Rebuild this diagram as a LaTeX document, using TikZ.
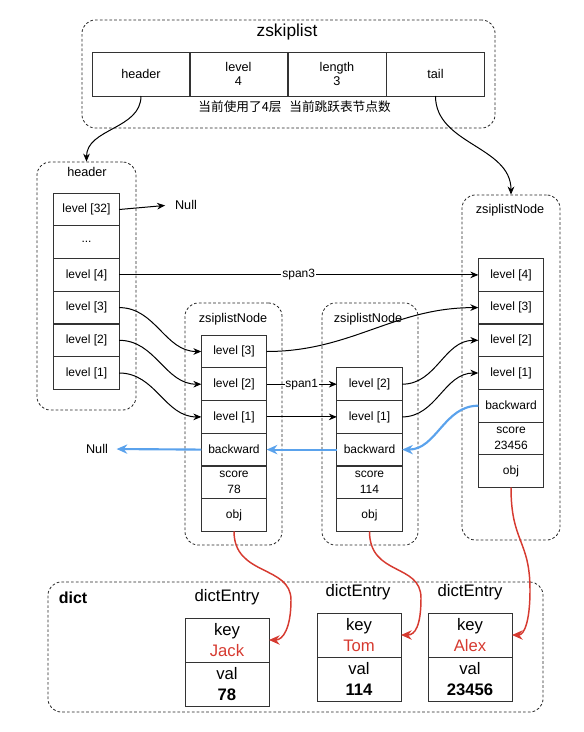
\documentclass[tikz,border=0pt]{standalone}
\usepackage{fontspec}
\setmainfont{Liberation Sans}
\newfontfamily\cjk{Noto Sans CJK SC}
\usetikzlibrary{arrows.meta}
\definecolor{linkblue}{HTML}{5AA2EC}
\definecolor{objred}{HTML}{D63A30}
\definecolor{cellgray}{HTML}{333333}

\begin{document}
\begin{tikzpicture}[x=0.75pt,y=-0.75pt,
    cell/.style={draw=cellgray,line width=0.7pt,minimum width=49pt,minimum height=24.5pt,inner sep=0pt,outer sep=0pt,align=center,font=\fontsize{9}{12}\selectfont},
    topcell/.style={cell,minimum width=73.5pt,minimum height=33pt,font=\fontsize{9.5}{11}\selectfont},
    entry/.style={cell,minimum width=63pt,minimum height=33pt,font=\fontsize{12.5}{16}\selectfont},
    group/.style={draw=black!85,dash pattern=on 2pt off 1.6pt,line width=0.6pt,rounded corners=10pt,inner sep=0pt},
    title/.style={font=\fontsize{9.5}{11}\selectfont},
    link/.style={-{Stealth[length=6pt,width=5pt]},line width=0.75pt},
    back/.style={-{Stealth[length=8pt,width=7pt]},line width=1.6pt,color=linkblue},
    obj/.style={-{Stealth[length=8pt,width=7pt]},line width=1.1pt,color=objred}]
\useasboundingbox (0,0) rectangle (583,732);

% dashed containers
\node[group,minimum width=309.8pt,minimum height=81pt] (zsl) at (288.5,74) {};
\node[group,minimum width=74.3pt,minimum height=186pt] (hdr) at (86.5,286) {};
\node[group,minimum width=72.8pt,minimum height=181.5pt] (na) at (233.5,424) {};
\node[group,minimum width=72pt,minimum height=181.5pt] (nb) at (370,424) {};
\node[group,minimum width=73.5pt,minimum height=258.8pt] (nc) at (511,367.5) {};
\node[group,minimum width=371.3pt,minimum height=97.5pt] (dct) at (295.5,647) {};

% zskiplist
\node[font=\fontsize{13}{15}\selectfont] (zsltitle) at (287,32) {zskiplist};
\node[topcell] (zh) at (141,74) {header};
\node[topcell] (zl) at (238.5,74) {level\\4};
\node[topcell] (zn) at (337,74) {length\\3};
\node[topcell] (zt) at (435.5,74) {tail};
\node[font=\cjk\fontsize{9.5}{11}\selectfont] (zlnote) at (240,107) {当前使用了4层};
\node[font=\cjk\fontsize{9.5}{11}\selectfont] (znnote) at (340,107) {当前跳跃表节点数};

% header
\node[title] (hdrtitle) at (87,172) {header};
\node[cell] (h32) at (86.5,209.5) {level [32]};
\node[cell] (hdots) at (86.5,242.2) {...};
\node[cell] (h4) at (86.5,274.9) {level [4]};
\node[cell] (h3) at (86.5,307.6) {level [3]};
\node[cell] (h2) at (86.5,340.3) {level [2]};
\node[cell] (h1) at (86.5,373) {level [1]};
\node[title] (null1) at (186,205) {Null};

% first node
\node[title] (natitle) at (233,319) {zsiplistNode};
\node[cell] (a3) at (234,351.5) {level [3]};
\node[cell] (a2) at (234,384.2) {level [2]};
\node[cell] (a1) at (234,416.9) {level [1]};
\node[cell] (ab) at (234,449.6) {backward};
\node[cell] (as) at (234,482.3) {score\\78};
\node[cell] (ao) at (234,515) {obj};
\node[title] (null2) at (97,449) {Null};

% second node
\node[title] (nbtitle) at (368,319) {zsiplistNode};
\node[cell] (b2) at (369.5,384.2) {level [2]};
\node[cell] (b1) at (369.5,416.9) {level [1]};
\node[cell] (bb) at (369.5,449.6) {backward};
\node[cell] (bs) at (369.5,482.3) {score\\114};
\node[cell] (bo) at (369.5,515) {obj};

% third node
\node[title] (nctitle) at (510,210) {zsiplistNode};
\node[cell] (c4) at (511,274.9) {level [4]};
\node[cell] (c3) at (511,307.6) {level [3]};
\node[cell] (c2) at (511,340.3) {level [2]};
\node[cell] (c1) at (511,373) {level [1]};
\node[cell] (cb) at (511,405.7) {backward};
\node[cell] (cs) at (511,438.4) {score\\23456};
\node[cell] (co) at (511,471.1) {obj};

% dict
\node[font=\bfseries\fontsize{12}{14}\selectfont] (dcttitle) at (73,598) {dict};
\node[font=\fontsize{12.5}{15}\selectfont] (e1title) at (227,597) {dictEntry};
\node[entry] (e1k) at (227,640) {key\\\textcolor{objred}{Jack}};
\node[entry] (e1v) at (227,684) {val\\\textbf{78}};
\node[font=\fontsize{12.5}{15}\selectfont] (e2title) at (358,592) {dictEntry};
\node[entry] (e2k) at (359,635) {key\\\textcolor{objred}{Tom}};
\node[entry] (e2v) at (359,679) {val\\\textbf{114}};
\node[font=\fontsize{12.5}{15}\selectfont] (e3title) at (470,592) {dictEntry};
\node[entry] (e3k) at (470,635) {key\\\textcolor{objred}{Alex}};
\node[entry] (e3v) at (470,679) {val\\\textbf{23456}};

% forward links
\draw[link] (zh.south) to[out=-90,in=90] (hdr.north);
\draw[link] (zt.south) to[out=-90,in=90] (nc.north);
\draw[link,shorten >=4pt] (h32.east) -- (null1.west);
\draw[link] (h4.east) -- node[midway,fill=white,inner sep=1pt,font=\fontsize{9}{11}\selectfont] {span3} (c4.west);
\draw[link] (h3.east) to[out=0,in=180] (a3.west);
\draw[link] (h2.east) to[out=0,in=180] (a2.west);
\draw[link] (h1.east) to[out=0,in=180] (a1.west);
\draw[link] (a3.east) to[out=0,in=180] (c3.west);
\draw[link] (a2.east) -- node[midway,fill=white,inner sep=0.5pt,font=\fontsize{9}{11}\selectfont] {span1} (b2.west);
\draw[link] (a1.east) -- (b1.west);
\draw[link] (b2.east) to[out=0,in=180] (c2.west);
\draw[link] (b1.east) to[out=0,in=180] (c1.west);

% backward links
\draw[back] (cb.west) to[out=180,in=0] (bb.east);
\draw[back] (bb.west) -- (ab.east);
\draw[back,shorten >=3pt] (ab.west) -- (null2.east);

% obj links
\draw[obj] (ao.south) .. controls +(0,45) and +(0,-35) .. (291,600) .. controls +(0,28) and +(14,0) .. (e1k.east);
\draw[obj] (bo.south) .. controls +(0,45) and +(0,-35) .. (421,598) .. controls +(0,28) and +(14,0) .. (e2k.east);
\draw[obj] (co.south) .. controls +(0,55) and +(0,-50) .. (530,590) .. controls +(0,32) and +(12,0) .. (e3k.east);
\end{tikzpicture}
\end{document}
